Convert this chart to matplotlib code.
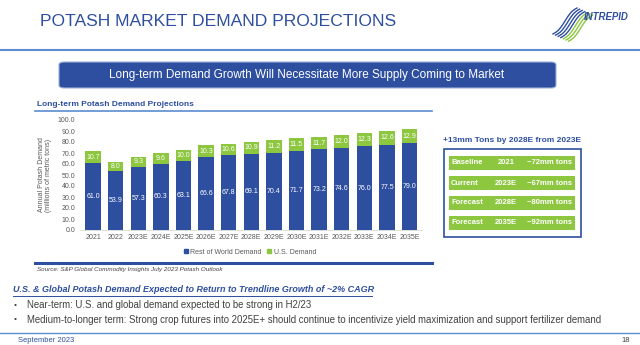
import numpy as np
import matplotlib.pyplot as plt
from matplotlib.patches import FancyBboxPatch, Rectangle, Patch
from matplotlib.lines import Line2D
from matplotlib import font_manager

plt.rcParams['font.family'] = ['Liberation Sans', 'DejaVu Sans']

# данные графика
years = ['2021', '2022', '2023E', '2024E', '2025E', '2026E', '2027E', '2028E',
         '2029E', '2030E', '2031E', '2032E', '2033E', '2034E', '2035E']
row_demand = [61.0, 53.9, 57.3, 60.3, 63.1, 66.6, 67.8, 69.1, 70.4, 71.7,
              73.2, 74.6, 76.0, 77.5, 79.0]
us_demand = [10.7, 8.0, 9.3, 9.6, 10.0, 10.3, 10.6, 10.9, 11.2, 11.5,
             11.7, 12.0, 12.3, 12.6, 12.9]
y_ticks = np.arange(0, 101, 10)

table_rows = [['Baseline', '2021', '~72mm tons'],
              ['Current', '2023E', '~67mm tons'],
              ['Forecast', '2028E', '~80mm tons'],
              ['Forecast', '2035E', '~92mm tons']]

bullets = ['Near-term: U.S. and global demand expected to be strong in H2/23',
           'Medium-to-longer term: Strong crop futures into 2025E+ should continue '
           'to incentivize yield maximization and support fertilizer demand']

BLUE = '#2E4FA0'
GREEN = '#8DC63F'
LIGHT_BLUE = '#5B8BD0'

# узкий шрифт, если есть
names = {f.name for f in font_manager.fontManager.ttflist}
NARROW = 'Liberation Sans Narrow' if 'Liberation Sans Narrow' in names else None

W, H = 640, 345
fig = plt.figure(figsize=(6.4, 3.45), dpi=100)
fig.patch.set_facecolor('white')


def fx(x):
    return x / W


def fy(y):
    return 1 - y / H


# заголовок
if NARROW:
    fig.text(fx(40), fy(21), 'POTASH MARKET DEMAND PROJECTIONS', fontsize=15.5,
             color=BLUE, va='center', ha='left', family=NARROW)
else:
    fig.text(fx(40), fy(21), 'POTASH MARKET DEMAND PROJECTIONS', fontsize=12.6,
             color=BLUE, va='center', ha='left')

# логотип (примерно): диагональные волнистые полосы
for i in range(7):
    c = BLUE if i < 4 else GREEN
    t = np.linspace(0, 1, 25)
    xs = 553 + i * 2.6 + 24 * t
    ys = 34 + i * 1.2 - 26 * t + 2.0 * np.sin(t * 2 * np.pi)
    fig.add_artist(Line2D(fx(xs), fy(ys), color=c, lw=1.0))
fig.text(fx(584), fy(17), 'INTREPID', fontsize=6.9, color=BLUE, weight='bold',
         style='italic', va='center', ha='left')

# линии
fig.add_artist(Line2D([0, 1], [fy(50), fy(50)], color=LIGHT_BLUE, lw=1.5))
fig.add_artist(Line2D([0, 1], [fy(333), fy(333)], color=LIGHT_BLUE, lw=1.0))

# баннер
banner = FancyBboxPatch((fx(59), fy(88)), fx(556 - 59), 26 / H,
                        boxstyle='round,pad=0,rounding_size=0.008',
                        transform=fig.transFigure, facecolor=BLUE,
                        edgecolor='#9DB0D8', lw=0.8)
fig.add_artist(banner)
fig.text(fx(307), fy(75), 'Long-term Demand Growth Will Necessitate More Supply Coming to Market',
         fontsize=8.5, color='white', ha='center', va='center')

# подзаголовок графика
fig.text(fx(37), fy(105), 'Long-term Potash Demand Projections', fontsize=6,
         color=BLUE, weight='bold', ha='left', va='center')
fig.add_artist(Line2D([fx(35), fx(432)], [fy(111), fy(111)], color=LIGHT_BLUE, lw=1.2))
fig.add_artist(Line2D([fx(35), fx(432)], [fy(263), fy(263)], color=BLUE, lw=2.2))
fig.text(fx(37), fy(270), 'Source: S&P Global Commodity Insights July 2023 Potash Outlook',
         fontsize=4.5, color='#404040', style='italic', ha='left', va='center')

# график
ax = fig.add_axes([fx(79.5), fy(230), fx(422 - 79.5), (230 - 120) / H])
x = np.arange(len(years))
ax.bar(x, row_demand, width=0.68, color=BLUE)
ax.bar(x, us_demand, width=0.68, bottom=row_demand, color=GREEN)
for i in range(len(years)):
    ax.text(x[i], row_demand[i] / 2, f'{row_demand[i]:.1f}', ha='center',
            va='center', fontsize=5, color='white')
    ax.text(x[i], row_demand[i] + us_demand[i] / 2, f'{us_demand[i]:.1f}',
            ha='center', va='center', fontsize=5, color='white')
ax.set_xlim(-0.6, len(years) - 0.45)
ax.set_ylim(0, 100)
ax.set_yticks(y_ticks)
ax.set_yticklabels([f'{v:.1f}' for v in y_ticks])
ax.set_xticks(x)
ax.set_xticklabels(years)
ax.tick_params(labelsize=5, colors='#595959', length=0, pad=3)
for s in ['top', 'right', 'left']:
    ax.spines[s].set_visible(False)
ax.spines['bottom'].set_color('#D9D9D9')
ax.spines['bottom'].set_linewidth(0.6)
ax.set_ylabel('Annual Potash Demand\n(millions of metric tons)', fontsize=5,
              color='#595959', labelpad=4, linespacing=1.0)

handles = [Patch(color=BLUE, label='Rest of World Demand'),
           Patch(color=GREEN, label='U.S. Demand')]
fig.legend(handles=handles, loc='center', bbox_to_anchor=(fx(250), fy(252)),
           ncol=2, frameon=False, fontsize=5, handlelength=0.6, handleheight=0.6,
           handletextpad=0.3, columnspacing=0.8, labelcolor='#595959')

# правая панель
fig.text(fx(512), fy(140), '+13mm Tons by 2028E from 2023E', fontsize=6,
         color=BLUE, weight='bold', ha='center', va='center')
fig.add_artist(Rectangle((fx(444), fy(237)), fx(581 - 444), (237 - 149) / H,
                         transform=fig.transFigure, facecolor='white',
                         edgecolor=BLUE, lw=1.2))
for i, r in enumerate(table_rows):
    top = 156 + i * 20
    fig.add_artist(Rectangle((fx(449), fy(top + 14)), fx(575 - 449), 14 / H,
                             transform=fig.transFigure, facecolor=GREEN,
                             edgecolor='none'))
    yc = fy(top + 7)
    fig.text(fx(451), yc, r[0], fontsize=5.5, color='white', weight='bold',
             ha='left', va='center')
    fig.text(fx(506), yc, r[1], fontsize=5.5, color='white', weight='bold',
             ha='center', va='center')
    fig.text(fx(572), yc, r[2], fontsize=5.5, color='white', weight='bold',
             ha='right', va='center')

# выводы
fig.text(fx(13), fy(290), 'U.S. & Global Potash Demand Expected to Return to Trendline Growth of ~2% CAGR',
         fontsize=6.45, color=BLUE, weight='bold', style='italic', ha='left', va='center')
fig.add_artist(Line2D([fx(13), fx(372)], [fy(295.5), fy(295.5)], color=BLUE, lw=0.7))
for i, b in enumerate(bullets):
    yc = fy(305 + i * 15)
    fig.text(fx(14), yc, '•', fontsize=6, color='#404040', ha='left', va='center')
    fig.text(fx(27), yc, b, fontsize=6.95, color='#404040', ha='left', va='center')

fig.text(fx(18), fy(340), 'September 2023', fontsize=5.5, color=BLUE, ha='left', va='center')
fig.text(fx(630), fy(340), '18', fontsize=5.5, color='#404040', ha='right', va='center')

fig.savefig('out.png', dpi=100)
